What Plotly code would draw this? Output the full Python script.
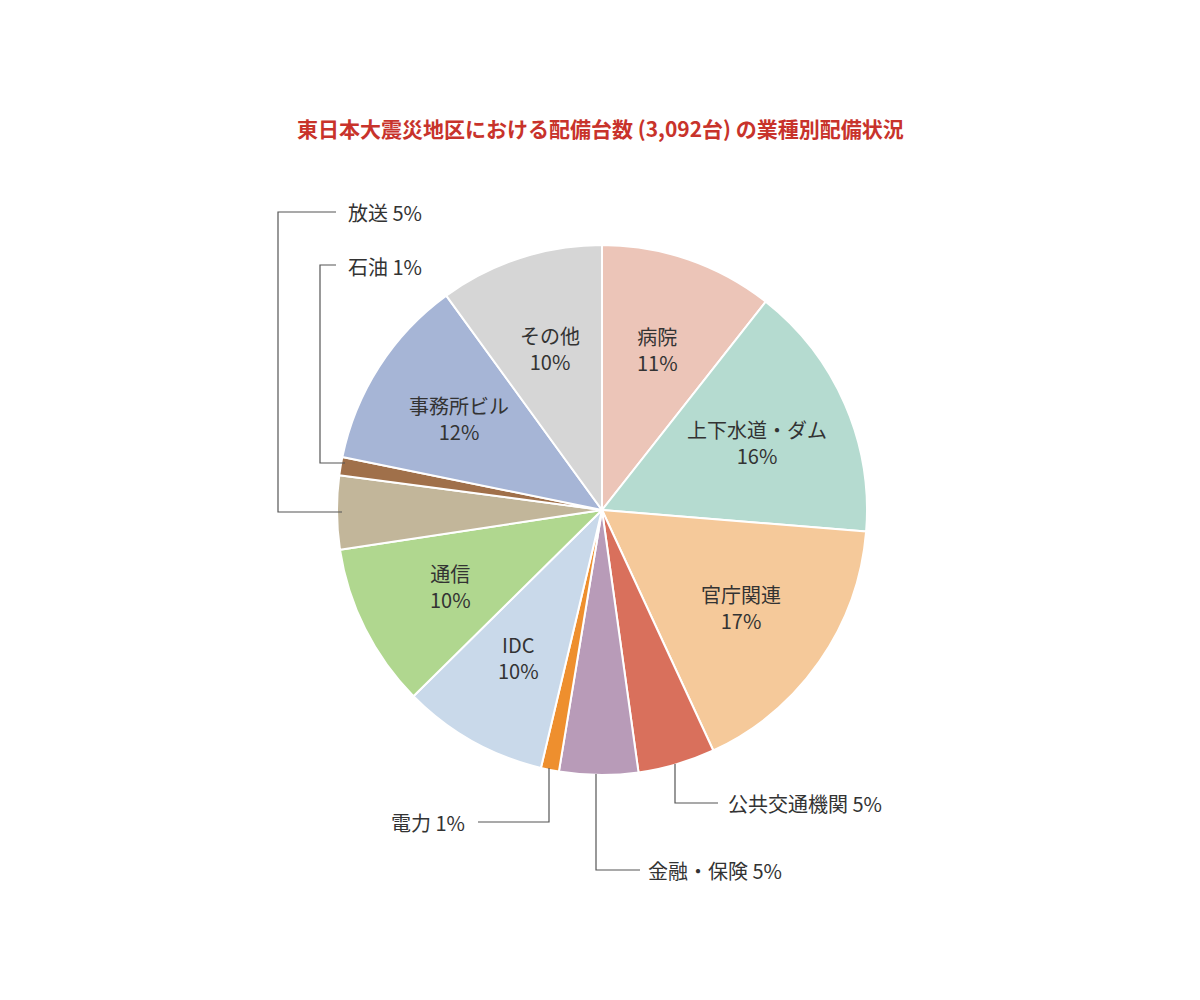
import math
import plotly.graph_objects as go

categories = ["病院", "上下水道・ダム", "官庁関連", "公共交通機関", "金融・保険", "電力",
              "IDC", "通信", "放送", "石油", "事務所ビル", "その他"]
shares = [10.6, 15.7, 16.8, 4.7, 4.8, 1.1, 8.9, 10.0, 4.5, 1.1, 11.8, 10.0]
pct_labels = ["11%", "16%", "17%", "5%", "5%", "1%", "10%", "10%", "5%", "1%", "12%", "10%"]
colors = ["#ecc5b8", "#b5dbd0", "#f5c99a", "#d9705c", "#b89bb8", "#ee8f2e",
          "#c9d9ea", "#b0d78f", "#c2b69a", "#a0704a", "#a6b5d6", "#d6d6d6"]
inside = [True, True, True, False, False, False, True, True, False, False, True, True]

W, H = 1200, 1000
OFF = 8  # page body margin
def px(x): return (x - OFF) / W
def py(y): return 1 - (y - OFF) / H

CX, CY, R = 602, 510, 265
FONT = "Noto Sans CJK JP"

fig = go.Figure(go.Pie(
    labels=categories, values=shares, sort=False, direction="clockwise", rotation=0,
    marker=dict(colors=colors, line=dict(color="white", width=2)),
    textinfo="none", hoverinfo="label+percent", showlegend=False,
    domain=dict(x=[px(CX - R), px(CX + R)], y=[py(CY + R), py(CY - R)]),
))

ann = []
total = sum(shares)
cum = 0
for c, v, p, ins in zip(categories, shares, pct_labels, inside):
    mid = (cum + v / 2) / total * 2 * math.pi
    cum += v
    if ins:
        r = 0.64 * R
        x = CX + r * math.sin(mid)
        y = CY - r * math.cos(mid)
        ann.append(dict(x=px(x), y=py(y), xref="paper", yref="paper", showarrow=False,
                        yanchor="middle", xanchor="center",
                        text=f"{c}<br>{p}", font=dict(size=20, color="#333", family=FONT),
                        align="center"))

def outside(text, x, y, anchor):
    ann.append(dict(x=px(x), y=py(y), xref="paper", yref="paper", showarrow=False,
                    text=text, xanchor=anchor, yanchor="middle",
                    font=dict(size=20, color="#333", family=FONT)))

idx = {c: i for i, c in enumerate(categories)}
outside(f"放送 {pct_labels[idx['放送']]}", 346, 213, "left")
outside(f"石油 {pct_labels[idx['石油']]}", 346, 266, "left")
outside(f"電力 {pct_labels[idx['電力']]}", 467, 822, "right")
outside(f"金融・保険 {pct_labels[idx['金融・保険']]}", 646, 870, "left")
outside(f"公共交通機関 {pct_labels[idx['公共交通機関']]}", 726, 803, "left")

ann.append(dict(x=px(600), y=py(128), xref="paper", yref="paper", showarrow=False,
                yanchor="middle",
                text="<b>東日本大震災地区における配備台数 (3,092台) の業種別配備状況</b>",
                font=dict(size=21, color="#c8332b", family=FONT)))

leaders = [
    [(342, 512), (278, 512), (278, 212), (336, 212)],
    [(345, 463), (320, 463), (320, 265), (336, 265)],
    [(549, 768), (549, 822), (478, 822)],
    [(596, 774), (596, 870), (640, 870)],
    [(675, 764), (675, 803), (718, 803)],
]
shapes = []
for pts in leaders:
    path = "M " + " L ".join(f"{px(x)},{py(y)}" for x, y in pts)
    shapes.append(dict(type="path", xref="paper", yref="paper", path=path,
                       line=dict(color="#555", width=1.2)))

fig.update_layout(width=W, height=H, margin=dict(l=0, r=0, t=0, b=0),
                  paper_bgcolor="white", plot_bgcolor="white",
                  annotations=ann, shapes=shapes, font=dict(family=FONT))
fig.write_html("out.html")
